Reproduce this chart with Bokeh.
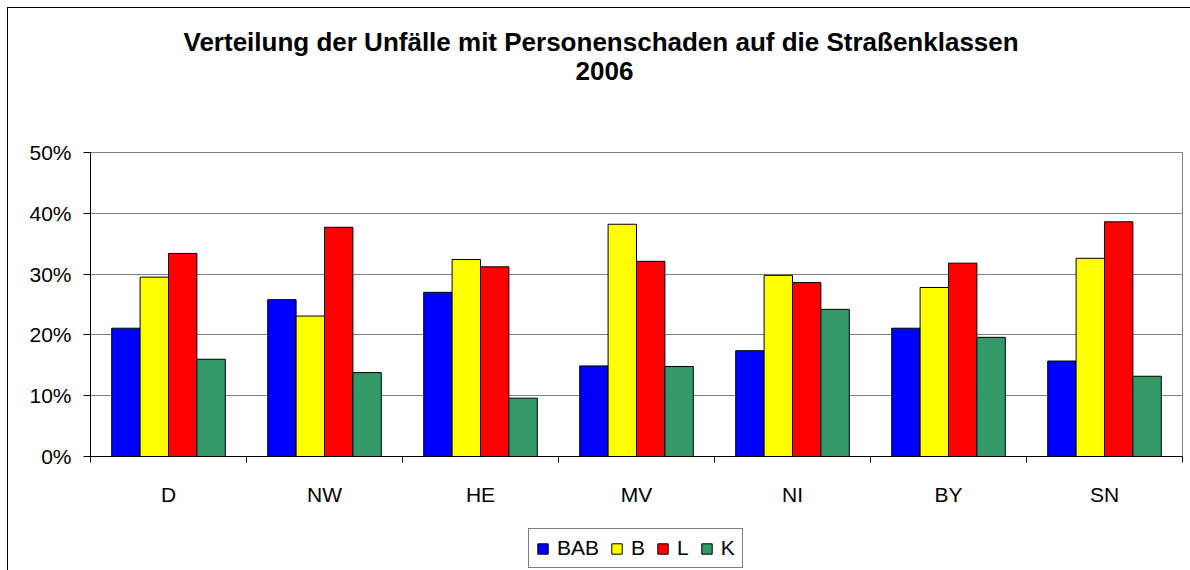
from bokeh.plotting import figure
from bokeh.layouts import column
from bokeh.models import (ColumnDataSource, Range1d, FixedTicker, Legend, LegendItem, Title)
from bokeh.transform import dodge
from bokeh.embed import file_html
from bokeh.resources import INLINE

# ---- data ----
regions = ["D", "NW", "HE", "MV", "NI", "BY", "SN"]
BAB = [21.1, 25.8, 27.0, 14.9, 17.4, 21.1, 15.7]
B   = [29.5, 23.1, 32.4, 38.2, 29.8, 27.8, 32.6]
L   = [33.4, 37.7, 31.2, 32.1, 28.6, 31.8, 38.6]
K   = [16.0, 13.8,  9.6, 14.8, 24.2, 19.6, 13.2]
series_names = ["BAB", "B", "L", "K"]
series_colors = ["#0000FF", "#FFFF00", "#FF0000", "#339966"]
y_ticks = [0, 10, 20, 30, 40, 50]
y_tick_labels = ["0%", "10%", "20%", "30%", "40%", "50%"]
title_line1 = "Verteilung der Unfälle mit Personenschaden auf die Straßenklassen"
title_line2 = "2006"

FONT = "Liberation Sans"
H1 = 515

centers = [i + 0.5 for i in range(len(regions))]
source = ColumnDataSource(dict(x=centers, region=regions, BAB=BAB, B=B, L=L, K=K))

p = figure(width=1190, height=H1, output_backend="svg", toolbar_location=None,
           x_range=Range1d(0, len(regions)), y_range=Range1d(0, 50),
           min_border_left=90, min_border_right=8, min_border_top=152, min_border_bottom=H1 - 456,
           title=None)
p.border_fill_alpha = 0
p.background_fill_color = "white"
p.outline_line_color = "#808080"
p.outline_line_width = 1

bw = 0.182
offsets = [-1.5 * bw, -0.5 * bw, 0.5 * bw, 1.5 * bw]
for name, col, off in zip(series_names, series_colors, offsets):
    p.vbar(x=dodge("x", off, range=p.x_range), top=name, width=bw, bottom=0,
           source=source, fill_color=col, line_color="black", line_width=1)

# x axis: labels at centers, ticks at category boundaries
p.xaxis.ticker = FixedTicker(ticks=centers, minor_ticks=list(range(len(regions) + 1)))
p.xaxis.major_label_overrides = {c: r for c, r in zip(centers, regions)}
p.xaxis.major_tick_line_color = None
p.xaxis.major_tick_out = 0
p.xaxis.major_tick_in = 0
p.xaxis.minor_tick_line_color = "black"
p.xaxis.minor_tick_out = 6
p.xaxis.minor_tick_in = 0
p.xaxis.major_label_standoff = 20
p.xaxis.axis_line_color = "black"

# y axis
p.yaxis.ticker = FixedTicker(ticks=y_ticks, minor_ticks=[])
p.yaxis.major_label_overrides = {t: l for t, l in zip(y_ticks, y_tick_labels)}
p.yaxis.major_tick_out = 7
p.yaxis.major_tick_in = 0
p.yaxis.major_tick_line_color = "black"
p.yaxis.minor_tick_line_color = None
p.yaxis.major_label_standoff = 12
p.yaxis.axis_line_color = "black"

for ax in (p.xaxis, p.yaxis):
    ax.major_label_text_font = FONT
    ax.major_label_text_font_size = "21px"
    ax.major_label_text_color = "black"

p.xgrid.grid_line_color = None
p.ygrid.grid_line_color = "#808080"
p.ygrid.grid_line_width = 1

# titles (stacked outward from the frame: spacer, line 2, line 1)
p.add_layout(Title(text=" ", text_font_size="1px", standoff=70), "above")
p.add_layout(Title(text=title_line2, align="left", offset=485, standoff=0,
                   text_font=FONT, text_font_size="26px", text_font_style="bold",
                   text_color="black"), "above")
p.add_layout(Title(text=title_line1, align="left", offset=93, standoff=6,
                   text_font=FONT, text_font_size="26px", text_font_style="bold",
                   text_color="black"), "above")

# legend strip (separate small figure below the chart)
H2 = 570 - H1
q = figure(width=1190, height=H2, output_backend="svg", toolbar_location=None,
           x_range=Range1d(0, 1), y_range=Range1d(0, 1),
           x_axis_location=None, y_axis_location=None,
           min_border_left=0, min_border_right=0, min_border_top=0, min_border_bottom=0,
           title=None)
q.grid.visible = False
q.outline_line_color = None
q.background_fill_alpha = 0
q.border_fill_alpha = 0
leg_renderers = []
for name, col in zip(series_names, series_colors):
    # legend proxy: a bar lying completely outside the strip's visible ranges
    r = q.vbar(x=[-5], bottom=[-6], top=[-5], width=0.1,
               fill_color=col, line_color="black", line_width=1)
    leg_renderers.append(r)

legend = Legend(items=[LegendItem(label=n, renderers=[r]) for n, r in zip(series_names, leg_renderers)],
                orientation="horizontal", location=(438, 2),
                border_line_color="black", border_line_width=1,
                background_fill_color="white", background_fill_alpha=1,
                label_text_font=FONT, label_text_font_size="21px", label_text_color="black",
                glyph_width=13, glyph_height=13, label_standoff=8, spacing=11,
                label_width=0, padding=7, margin=0)
q.add_layout(legend, "center")

layout = column(p, q, spacing=0)
# outer chart-area border (left and top edges visible in the window)
layout.styles = {"background": "linear-gradient(#000,#000) 7px 7px / 1px 100% no-repeat, "
                               "linear-gradient(#000,#000) 7px 7px / 100% 1px no-repeat"}

open("out.html", "w").write(file_html(layout, INLINE))
